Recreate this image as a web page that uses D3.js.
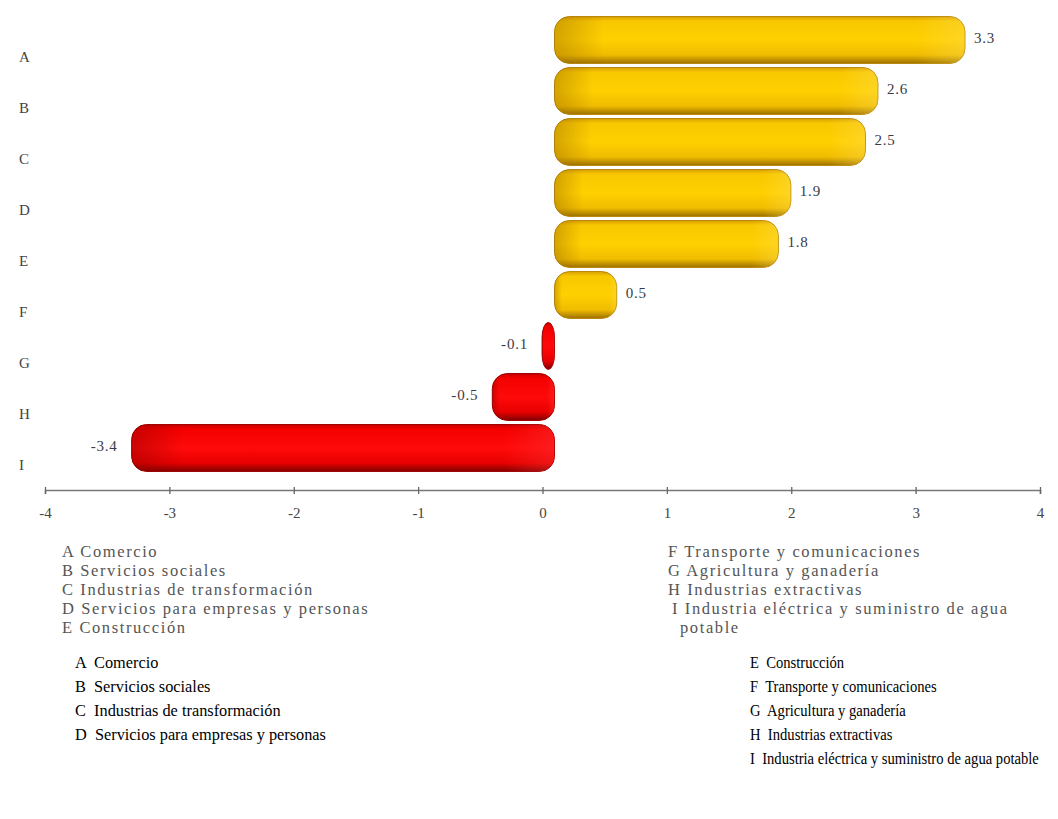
<!DOCTYPE html>
<html><head><meta charset="utf-8">
<script src="https://cdn.jsdelivr.net/npm/d3@7"></script>
<style>
html,body{margin:0;padding:0;background:#fff;}
svg{display:block;}
text{white-space:pre;}
</style></head>
<body>
<svg id="chart" width="1058" height="819"></svg>
<script>
const categories = ["A","B","C","D","E","F","G","H","I"];
const values = [3.3, 2.6, 2.5, 1.9, 1.8, 0.5, -0.1, -0.5, -3.4];
const valueLabels = ["3.3","2.6","2.5","1.9","1.8","0.5","-0.1","-0.5","-3.4"];
const xTicks = [-4,-3,-2,-1,0,1,2,3,4];
const xTickLabels = ["-4","-3","-2","-1","0","1","2","3","4"];
const chartLegendLeft = ["A Comercio","B Servicios sociales","C Industrias de transformación","D Servicios para empresas y personas","E Construcción"];
const chartLegendRight = ["F Transporte y comunicaciones","G Agricultura y ganadería","H Industrias extractivas","I Industria eléctrica y suministro de agua","potable"];
const noteLeft = ["A  Comercio","B  Servicios sociales","C  Industrias de transformación","D  Servicios para empresas y personas"];
const noteRight = ["E  Construcción","F  Transporte y comunicaciones","G  Agricultura y ganadería","H  Industrias extractivas","I  Industria eléctrica y suministro de agua potable"];

const svg = d3.select("#chart");
const serif = "'Liberation Serif','Times New Roman',serif";

const x = d3.scaleLinear().domain([-4,4]).range([45,1040]);
const y = d3.scaleBand().domain(categories).range([31.5,490.5]).paddingInner(0.08).paddingOuter(0.04);
const dx = 12, dy = -17;

const defs = svg.append("defs");
function grad(id, stops){
  const g = defs.append("linearGradient").attr("id",id).attr("x1",0).attr("y1",0).attr("x2",0).attr("y2",1);
  stops.forEach(s=>g.append("stop").attr("offset",s[0]).attr("stop-color",s[1]));
}
grad("gold",[[0,"#d9a000"],[0.1,"#f8c800"],[0.5,"#ffd000"],[0.82,"#f0bc00"],[1,"#9c7000"]]);
grad("red",[[0,"#c80000"],[0.1,"#f40000"],[0.5,"#ff0a0a"],[0.82,"#e80000"],[1,"#800000"]]);
function hgrad(id, c0, c1){
  const g = defs.append("linearGradient").attr("id",id).attr("x1",0).attr("y1",0).attr("x2",1).attr("y2",0);
  g.append("stop").attr("offset",0).attr("stop-color",c0).attr("stop-opacity",0.45);
  g.append("stop").attr("offset",0.12).attr("stop-color",c0).attr("stop-opacity",0);
  g.append("stop").attr("offset",0.88).attr("stop-color",c1).attr("stop-opacity",0);
  g.append("stop").attr("offset",1).attr("stop-color",c1).attr("stop-opacity",0.35);
}
hgrad("goldEnds","#a07000","#ffe060");
hgrad("redEnds","#900000","#ff4040");

// bars
const bars = svg.append("g");
categories.forEach((c,i)=>{
  const v = values[i];
  const x0 = Math.min(x(0), x(v)) + dx;
  const w = Math.abs(x(v) - x(0));
  const h = y.bandwidth();
  const r = Math.min(15, w/2);
  const pos = v>=0;
  bars.append("rect")
    .attr("x", x0).attr("y", y(c)+dy)
    .attr("width", w).attr("height", h)
    .attr("rx", r).attr("ry", Math.min(15, h/2))
    .attr("fill", pos ? "url(#gold)" : "url(#red)")
    .attr("stroke", pos ? "#b8860b" : "#a00000").attr("stroke-width",1);
  bars.append("rect")
    .attr("x", x0).attr("y", y(c)+dy)
    .attr("width", w).attr("height", h)
    .attr("rx", r).attr("ry", Math.min(15, h/2))
    .attr("fill", pos ? "url(#goldEnds)" : "url(#redEnds)");
  const cy = y(c)+dy+h/2;
  svg.append("text")
    .attr("x", pos ? x(v)+dx+9 : x(v)+dx-14)
    .attr("y", cy+3)
    .attr("text-anchor", pos ? "start" : "end")
    .attr("font-family", serif).attr("font-size",15).attr("letter-spacing","0.8px").attr("fill","#3a3a48")
    .text(valueLabels[i]);
});

// category labels
svg.append("g").selectAll("text").data(categories).join("text")
  .attr("x", 19).attr("y", d=>y(d)+y.bandwidth()/2+5)
  .attr("font-family", serif).attr("font-size",15).attr("fill","#444")
  .text(d=>d);

// x axis
const axis = d3.axisBottom(x).tickValues(xTicks).tickFormat((d,i)=>xTickLabels[i]).tickSize(4).tickPadding(13);
const ax = svg.append("g").attr("transform","translate(0,490)").call(axis);
ax.select(".domain").attr("stroke","#777").attr("stroke-width",1.5);
ax.selectAll(".tick line").attr("stroke","#666").attr("y1",-3).attr("stroke-width",1.3);
ax.selectAll(".tick text").attr("font-family",serif).attr("font-size",15).attr("fill","#444");

// in-chart legend
const lg = svg.append("g").attr("font-family",serif).attr("font-size",16.5).attr("fill","#555").attr("letter-spacing","1.6px");
chartLegendLeft.forEach((t,i)=>lg.append("text").attr("x",62).attr("y",557+i*19).text(t));
chartLegendRight.forEach((t,i)=>lg.append("text").attr("x", i===4 ? 680 : (i===3 ? 672 : 668)).attr("y",557+i*19).text(t));

// note legend
const nt = svg.append("g").attr("font-family",serif).attr("font-size",17).attr("fill","#000");
noteLeft.forEach((t,i)=>nt.append("text").attr("transform",`translate(75,${668+i*24}) scale(0.96,1)`).text(t));
noteRight.forEach((t,i)=>nt.append("text").attr("transform",`translate(750,${668+i*24}) scale(0.86,1)`).text(t));
</script>
</body></html>
